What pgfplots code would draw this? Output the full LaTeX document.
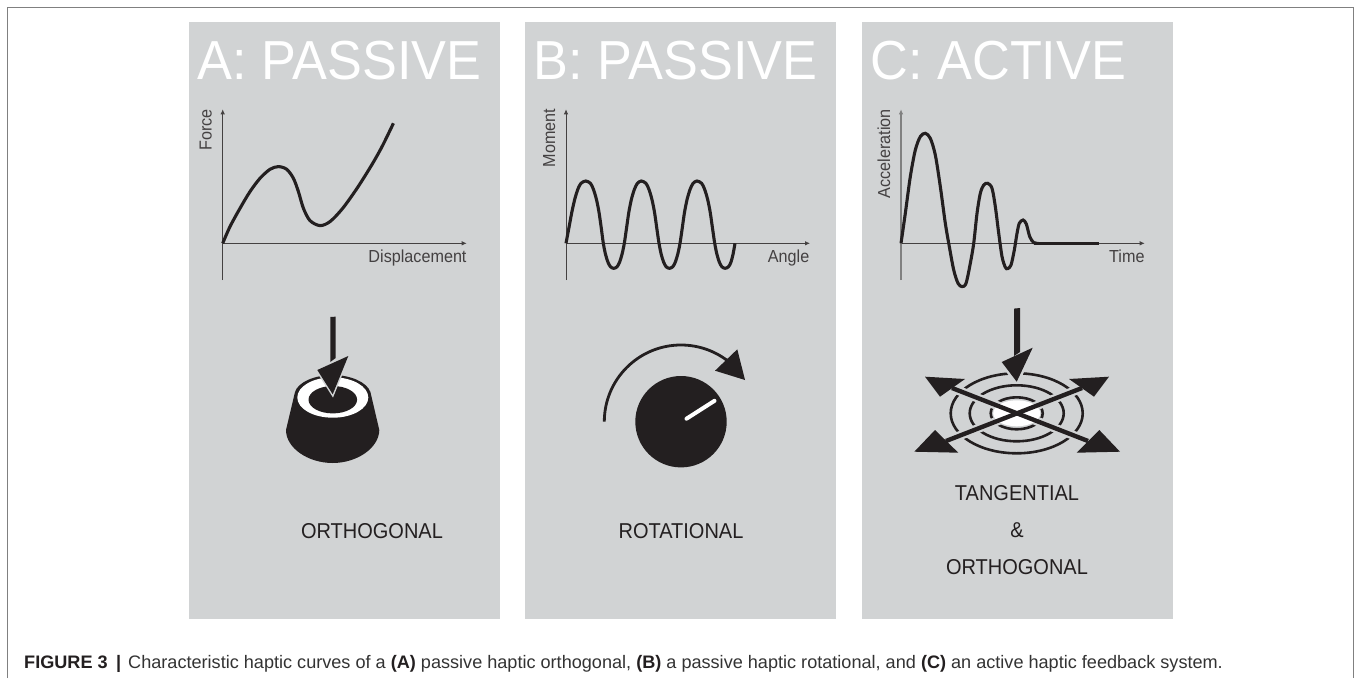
\documentclass[border=0pt]{standalone}
\usepackage{fontspec}
\setmainfont{Liberation Sans}
\usepackage{pgfplots}
\pgfplotsset{compat=1.18}
\usetikzlibrary{arrows.meta}
\definecolor{panel}{HTML}{D1D3D4}
\definecolor{ink}{HTML}{231F20}
\definecolor{frame}{HTML}{808080}
\newcommand{\fsz}[1]{\fontsize{#1bp}{#1bp}\selectfont}
\newcommand{\lab}[1]{\scalebox{0.93}[1]{\fsz{17.4}#1}}
\pgfplotsset{hap/.style={
  scale only axis, width=244bp, height=170.7bp, xmin=0, xmax=244, ymin=-36.7, ymax=134,
  axis lines=middle, ticks=none, clip=false,
  axis line style={draw=ink!85, line width=0.8bp, -{Latex[length=5bp,width=4.5bp]}},
}}
\begin{document}
\begin{tikzpicture}[x=1bp,y=-1bp]
\path[use as bounding box] (0,0) rectangle (1354,679);
\fill[white] (0,0) rectangle (1354,679);
\draw[frame, line width=0.9bp] (7.8,678) -- (7.8,7.3) -- (1353,7.3) -- (1353,678);
\fill[panel] (189,22) rectangle (500,618.7);
\fill[panel] (525,22) rectangle (836,618.7);
\fill[panel] (862,22) rectangle (1173,618.7);
% titles
\foreach \xx/\ttl in {197.5/A: PASSIVE,533.5/B: PASSIVE,870.5/C: ACTIVE}{
  \node[white, anchor=base west, inner sep=0pt, xscale=0.95] at (\xx,79.3) {\fsz{55}\ttl};
}
% captions under icons
\node[ink, anchor=base, inner sep=0pt, xscale=0.93] at (372,538) {\fsz{21.5}ORTHOGONAL};
\node[ink, anchor=base, inner sep=0pt, xscale=0.93] at (681,538) {\fsz{21.5}ROTATIONAL};
\node[ink, anchor=base, inner sep=0pt, xscale=0.93] at (1017,500) {\fsz{21.5}TANGENTIAL};
\node[ink, anchor=base, inner sep=0pt, xscale=0.93] at (1017,537) {\fsz{21.5}\&};
\node[ink, anchor=base, inner sep=0pt, xscale=0.93] at (1017,574) {\fsz{21.5}ORTHOGONAL};
% figure caption
\node[anchor=base west, inner sep=0pt, text=black!80] at (24,668) {\fsz{18.1}{\bfseries\color{ink}FIGURE 3\hspace{8.5bp}|\hspace{7bp}}Characteristic haptic curves of a {\bfseries\color{ink}(A)} passive haptic orthogonal, {\bfseries\color{ink}(B)} a passive haptic rotational, and {\bfseries\color{ink}(C)} an active haptic feedback system.};

% Panel A curve
\begin{axis}[hap, at={(222.7bp,-280bp)}, anchor=south west]
\addplot[ink, line width=3.1bp, smooth] coordinates {
(0,0)(7.3,16.7)(17.3,35)(27.3,51.7)(37.3,65)(47.3,74)(55.7,76.7)(64,74)(70.7,65)(75.7,51.7)(80.7,35)(87.3,22.7)(97.3,17.7)(107.3,21.7)(120,35)(135,56)(150,80)(160,98)(170.7,120)};
\node[ink!85, anchor=base east, inner sep=0pt] at (axis cs:244,-19.6) {\lab{Displacement}};
\node[ink!85, rotate=90, anchor=base east, inner sep=0pt] at (axis cs:-11,134.5) {\lab{Force}};
\end{axis}
% Panel B curve
\begin{axis}[hap, at={(566bp,-280bp)}, anchor=south west]
\addplot[ink, line width=3.1bp, smooth] coordinates {
(0,0)(3,16)(6,32)(9,45)(12,54.5)(15,60)(19.7,62.3)(24.4,60)(27.4,54)(30.4,44)(33,31)(35.3,15)(37.3,0)
(39.5,-11)(42,-19)(44.5,-23.5)(47.7,-25)(51,-23.5)(53.5,-19)(56,-11)(58.3,0)
(60.5,15)(62.8,31)(65.4,44)(68.4,54)(71.4,60)(75.3,62.3)(79.9,60)(82.9,54)(85.9,44)(88.5,31)(90.8,15)(93,0)
(95.2,-11)(97.7,-19)(100.2,-23.5)(103.4,-25)(106.7,-23.5)(109.2,-19)(111.7,-11)(114,0)
(116.2,15)(118.5,31)(121.1,44)(124.1,54)(127.1,60)(131,62.3)(135.6,60)(138.6,54)(141.6,44)(144.2,31)(146.5,15)(148.7,0)
(150.9,-11)(153.4,-19)(155.9,-23.5)(159.1,-25)(162.4,-23.5)(164.9,-19)(167,-11)(169,0)};
\node[ink!85, anchor=base east, inner sep=0pt] at (axis cs:243.5,-19.6) {\lab{Angle}};
\node[ink!85, rotate=90, anchor=base east, inner sep=0pt] at (axis cs:-11,134.5) {\lab{Moment}};
\end{axis}
% Panel C curve
\begin{axis}[hap, at={(901bp,-280bp)}, anchor=south west, xmax=243.7, width=243.7bp,
   y axis line style={draw=frame, line width=1.5bp}]
\addplot[ink, line width=3.1bp, smooth] coordinates {
(0,0)(4.3,30)(9.3,66.7)(14.3,93.3)(19.3,106.7)(24.3,110)(29.3,105)(34.3,88.3)(39.3,56.7)(44.3,20)(48.3,-3.3)(52.7,-26.7)(57,-40)(61,-43.3)(65,-40)(69.3,-20)(72.7,0)(76,30)(79.3,50)(82.7,58.3)(86.7,60)(91,55)(94.3,36.7)(97.7,10)(101,-13.3)(104.3,-24)(106.7,-25.3)(110,-21.7)(113.3,-6.7)(116,10)(118.3,20)(122,23.3)(125.3,19.3)(128.7,6.7)(132.7,0.7)(137.7,0)};
\addplot[ink, line width=3.4bp] coordinates {(133,0)(197.7,0)};
\node[ink!85, anchor=base east, inner sep=0pt] at (axis cs:243.7,-19.6) {\lab{Time}};
\node[ink!85, rotate=90, anchor=base east, inner sep=0pt] at (axis cs:-11,134.5) {\lab{Acceleration}};
\end{axis}

% Icon A: push button
\fill[ink] (295,392) .. controls (298,382) and (315,375) .. (332.7,375) .. controls (350,375) and (367,382) .. (370.4,392)
  -- (379.3,430) .. controls (379,448) and (357,463) .. (332.7,463) .. controls (308,463) and (286,448) .. (286,430) -- cycle;
\fill[white] (332.8,397.5) ellipse [x radius=35.5, y radius=20.2];
\fill[ink] (332.8,399.7) ellipse [x radius=24.3, y radius=13.7];
\draw[panel, line width=3bp, line join=miter] (317.3,370) -- (332.7,394.3) -- (348.3,356);
\fill[ink] (330.3,316.9) -- (335.7,316.7) -- (335.7,358) -- (330.3,362) -- cycle;
\fill[ink] (348.3,356) -- (317.3,370) -- (332.7,394.3) -- cycle;

% Icon B: rotary knob
\fill[ink] (681,421.7) circle [radius=45.7];
\draw[white, line width=4bp, line cap=round] (686.5,418.7) -- (714.5,400.8);
\draw[ink, line width=2.8bp] (604.3,421.7) arc [start angle=180, end angle=309, radius=76.7];
\fill[ink] (737.3,349.3) -- (745,380) -- (715,370.7) -- cycle;

% Icon C: surface with rings
\begin{scope}[ink, line width=2.6bp]
\draw (1016.7,413.3) ellipse [x radius=66, y radius=40];
\draw (1016.7,413.3) ellipse [x radius=47, y radius=28];
\draw (1016.7,413.3) ellipse [x radius=26, y radius=16];
\end{scope}
% gaps in the rings
\draw[panel, line width=9bp] (946,441) -- (1082,388);
\draw[panel, line width=9bp] (952,388) -- (1088,441);
\draw[panel, line width=5bp, line join=round] (925,376.7) -- (965,379) -- (940,396.7) -- cycle;
\draw[panel, line width=5bp, line join=round] (1109,376.7) -- (1069,379) -- (1094,396.7) -- cycle;
\draw[panel, line width=5bp, line join=round] (914.3,451.7) -- (935,430) -- (958.3,452.7) -- cycle;
\draw[panel, line width=5bp, line join=round] (1120,451.7) -- (1099.3,430) -- (1076.7,452.7) -- cycle;
\draw[panel, line width=5bp, line join=round] (1032.7,347.7) -- (1001.7,362) -- (1016.7,381.7) -- cycle;
\fill[white] (1016.7,413.3) ellipse [x radius=23.5, y radius=13];
\draw[ink, line width=4.4bp] (946,441) -- (1082,388);
\draw[ink, line width=4.4bp] (952,388) -- (1088,441);
\fill[ink] (925,376.7) -- (965,379) -- (940,396.7) -- cycle;
\fill[ink] (1109,376.7) -- (1069,379) -- (1094,396.7) -- cycle;
\fill[ink] (914.3,451.7) -- (935,430) -- (958.3,452.7) -- cycle;
\fill[ink] (1120,451.7) -- (1099.3,430) -- (1076.7,452.7) -- cycle;
\fill[ink] (1014,308.6) -- (1020,308) -- (1020,352) -- (1014,356) -- cycle;
\fill[ink] (1032.7,347.7) -- (1001.7,362) -- (1016.7,381.7) -- cycle;
\end{tikzpicture}
\end{document}
